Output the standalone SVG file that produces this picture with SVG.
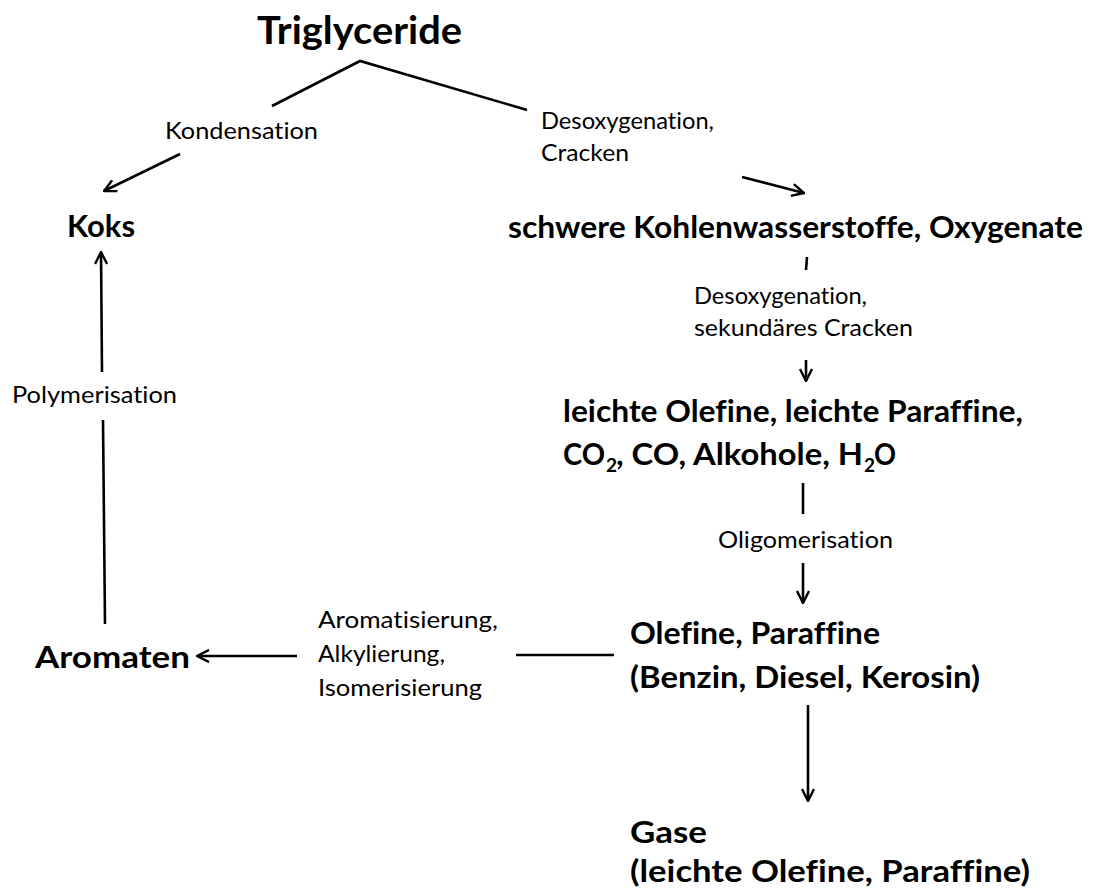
<svg xmlns="http://www.w3.org/2000/svg" width="1100" height="890" viewBox="0 0 1100 890">
  <style>
    text { font-variant-ligatures: none; font-feature-settings: "liga" 0, "dlig" 0; }
    .node { font-family: Lato, "Open Sans", "Liberation Sans", sans-serif; font-weight: 700; font-size: 30px; fill: #000; }
    .title { font-size: 39px; }
    .lbl { font-family: Lato, "Open Sans", "Liberation Sans", sans-serif; font-weight: 400; font-size: 23.5px; fill: #000; }
    .sub { font-size: 19px; }
    .conn line, .conn polyline { stroke: #000; stroke-width: 2.6; fill: none; stroke-linecap: butt; }
  </style>
  <defs>
    <marker id="arrow" viewBox="0 0 14 14" refX="13" refY="7" markerWidth="14" markerHeight="14" markerUnits="userSpaceOnUse" orient="auto">
      <path d="M1,1 L13,7 L1,13" fill="none" stroke="#000" stroke-width="2.4"/>
    </marker>
  </defs>

  <rect width="1100" height="890" fill="#fff"/>

  <!-- connectors -->
  <g id="connectors" class="conn">
    <!-- Triglyceride fork -->
    <polyline points="272,106 360,61 527,110"/>
    <!-- condensation to coke -->
    <line x1="180" y1="154" x2="104" y2="191" marker-end="url(#arrow)"/>
    <!-- deoxygenation/cracking to heavy hydrocarbons -->
    <line x1="742" y1="177" x2="804" y2="193" marker-end="url(#arrow)"/>
    <!-- heavy hydrocarbons to light olefins -->
    <line x1="807" y1="257" x2="806" y2="270"/>
    <line x1="806" y1="360" x2="806" y2="381" marker-end="url(#arrow)"/>
    <!-- oligomerisation -->
    <line x1="803" y1="483" x2="803" y2="514"/>
    <line x1="803" y1="563" x2="803" y2="603" marker-end="url(#arrow)"/>
    <!-- olefins/paraffins to gases -->
    <line x1="808" y1="705" x2="808" y2="801" marker-end="url(#arrow)"/>
    <!-- aromatisation -->
    <line x1="614" y1="655" x2="516" y2="655"/>
    <line x1="297" y1="656" x2="197" y2="656" marker-end="url(#arrow)"/>
    <!-- polymerisation -->
    <line x1="105" y1="624" x2="103" y2="420"/>
    <line x1="102" y1="372" x2="101" y2="252" marker-end="url(#arrow)"/>
  </g>

  <!-- nodes -->
  <g id="triglyceride">
    <text class="node title" x="257" y="44" textLength="205" lengthAdjust="spacingAndGlyphs">Triglyceride</text>
  </g>
  <g id="koks">
    <text class="node" x="67" y="237" textLength="68" lengthAdjust="spacingAndGlyphs">Koks</text>
  </g>
  <g id="schwere-kw">
    <text class="node" x="508" y="238" textLength="575" lengthAdjust="spacingAndGlyphs">schwere Kohlenwasserstoffe, Oxygenate</text>
  </g>
  <g id="leichte-olefine">
    <text class="node" x="563" y="422" textLength="460" lengthAdjust="spacingAndGlyphs">leichte Olefine, leichte Paraffine,</text>
    <text class="node" x="563" y="465" textLength="42" lengthAdjust="spacingAndGlyphs">CO</text>
    <text class="node sub" x="606" y="472">2</text>
    <text class="node" x="616" y="465" textLength="247" lengthAdjust="spacingAndGlyphs">, CO, Alkohole, H</text>
    <text class="node sub" x="864" y="472">2</text>
    <text class="node" x="874" y="465" textLength="22" lengthAdjust="spacingAndGlyphs">O</text>
  </g>
  <g id="olefine-paraffine">
    <text class="node" x="630" y="644" textLength="250" lengthAdjust="spacingAndGlyphs">Olefine, Paraffine</text>
    <text class="node" x="630" y="688" textLength="350" lengthAdjust="spacingAndGlyphs">(Benzin, Diesel, Kerosin)</text>
  </g>
  <g id="aromaten">
    <text class="node" x="35" y="668" textLength="155" lengthAdjust="spacingAndGlyphs">Aromaten</text>
  </g>
  <g id="gase">
    <text class="node" x="630" y="843" textLength="77" lengthAdjust="spacingAndGlyphs">Gase</text>
    <text class="node" x="630" y="882" textLength="400" lengthAdjust="spacingAndGlyphs">(leichte Olefine, Paraffine)</text>
  </g>

  <!-- reaction labels -->
  <g id="labels">
    <text class="lbl" x="165" y="139" textLength="153" lengthAdjust="spacingAndGlyphs">Kondensation</text>
    <text class="lbl" x="541" y="129" textLength="173" lengthAdjust="spacingAndGlyphs">Desoxygenation,</text>
    <text class="lbl" x="541" y="161" textLength="88" lengthAdjust="spacingAndGlyphs">Cracken</text>
    <text class="lbl" x="694" y="304" textLength="173" lengthAdjust="spacingAndGlyphs">Desoxygenation,</text>
    <text class="lbl" x="694" y="336" textLength="219" lengthAdjust="spacingAndGlyphs">sekundäres Cracken</text>
    <text class="lbl" x="718" y="548" textLength="175" lengthAdjust="spacingAndGlyphs">Oligomerisation</text>
    <text class="lbl" x="12" y="403" textLength="165" lengthAdjust="spacingAndGlyphs">Polymerisation</text>
    <text class="lbl" x="318" y="628" textLength="180" lengthAdjust="spacingAndGlyphs">Aromatisierung,</text>
    <text class="lbl" x="318" y="662" textLength="127" lengthAdjust="spacingAndGlyphs">Alkylierung,</text>
    <text class="lbl" x="318" y="696" textLength="164" lengthAdjust="spacingAndGlyphs">Isomerisierung</text>
  </g>
</svg>
